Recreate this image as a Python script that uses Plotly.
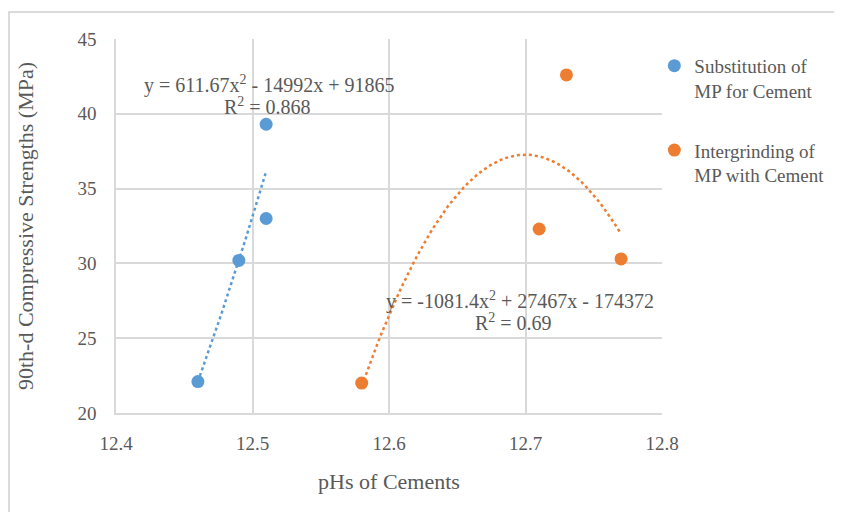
import numpy as np
import plotly.graph_objects as go

# Data
blue_name = "Substitution of<br>MP for Cement"
blue_x = [12.46, 12.49, 12.51, 12.51]
blue_y = [22.1, 30.2, 33.0, 39.3]

orange_name = "Intergrinding of<br>MP with Cement"
orange_x = [12.58, 12.71, 12.73, 12.77]
orange_y = [22.0, 32.3, 42.6, 30.3]

blue_eq = "y = 611.67x<sup>2</sup> - 14992x + 91865"
blue_r2 = "R<sup>2</sup> = 0.868"
orange_eq = "y = -1081.4x<sup>2</sup> + 27467x - 174372"
orange_r2 = "R<sup>2</sup> = 0.69"

x_ticks = [12.4, 12.5, 12.6, 12.7, 12.8]
y_ticks = [20, 25, 30, 35, 40, 45]

BLUE = "#5B9BD5"
ORANGE = "#ED7D31"
GRAY = "#595959"
GRID = "#D9D9D9"
FONT = "Liberation Serif, Times New Roman, serif"


def trend(xs, ys):
    c = np.polyfit(xs, ys, 2)
    xx = np.linspace(min(xs), max(xs), 80)
    return xx, np.polyval(c, xx)


fig = go.Figure()

bx, by = trend(blue_x, blue_y)
ox, oy = trend(orange_x, orange_y)

fig.add_trace(go.Scatter(x=bx, y=by, mode="lines", line=dict(color=BLUE, width=2.5, dash="dot"),
                         showlegend=False, hoverinfo="skip"))
fig.add_trace(go.Scatter(x=ox, y=oy, mode="lines", line=dict(color=ORANGE, width=2.5, dash="dot"),
                         showlegend=False, hoverinfo="skip"))
fig.add_trace(go.Scatter(x=blue_x, y=blue_y, mode="markers", name=blue_name,
                         marker=dict(color=BLUE, size=13), legendgroup="a"))
fig.add_trace(go.Scatter(x=orange_x, y=orange_y, mode="markers", name=orange_name,
                         marker=dict(color=ORANGE, size=13), legendgroup="b"))

afont = dict(family=FONT, size=20, color=GRAY)
for x, y, t in [(12.5128, 41.99, blue_eq), (12.511, 40.52, blue_r2),
                (12.696, 27.55, orange_eq), (12.691, 26.08, orange_r2)]:
    fig.add_annotation(x=x, y=y, text=t, showarrow=False, xref="x", yref="y", font=afont)

# outer frame
fig.add_shape(type="rect", xref="paper", yref="paper",
              x0=-0.196, x1=1.4, y0=-0.4, y1=1.072,
              line=dict(color="#D0D0D0", width=1.5), layer="below")

fig.update_layout(
    width=834, height=504,
    margin=dict(l=108, r=180, t=31, b=99),
    paper_bgcolor="white", plot_bgcolor="white",
    font=dict(family=FONT, color=GRAY, size=19),
    legend=dict(x=0.986, y=0.979, xanchor="left", yanchor="top",
                font=dict(family=FONT, size=19, color=GRAY),
                tracegroupgap=32, valign="top", itemwidth=30,
                bgcolor="rgba(0,0,0,0)"),
    xaxis=dict(range=[12.4, 12.8], tickvals=x_ticks, ticktext=[f"{v:.1f}" for v in x_ticks],
               showgrid=True, gridcolor=GRID, gridwidth=1.5,
               showline=True, linecolor=GRID, linewidth=1.5, zeroline=False,
               ticks="", ticklabelstandoff=12, tickfont=dict(family=FONT, size=19, color=GRAY),
               title=dict(text="pHs of Cements", font=dict(family=FONT, size=22, color=GRAY), standoff=21)),
    yaxis=dict(range=[20, 45], tickvals=y_ticks,
               showgrid=True, gridcolor=GRID, gridwidth=1.5,
               showline=True, linecolor=GRID, linewidth=1.5, zeroline=False,
               ticks="", ticklabelstandoff=14, tickfont=dict(family=FONT, size=19, color=GRAY),
               title=dict(text="90th-d Compressive Strengths (MPa)",
                          font=dict(family=FONT, size=22, color=GRAY), standoff=38)),
)

fig.write_html("out.html")
